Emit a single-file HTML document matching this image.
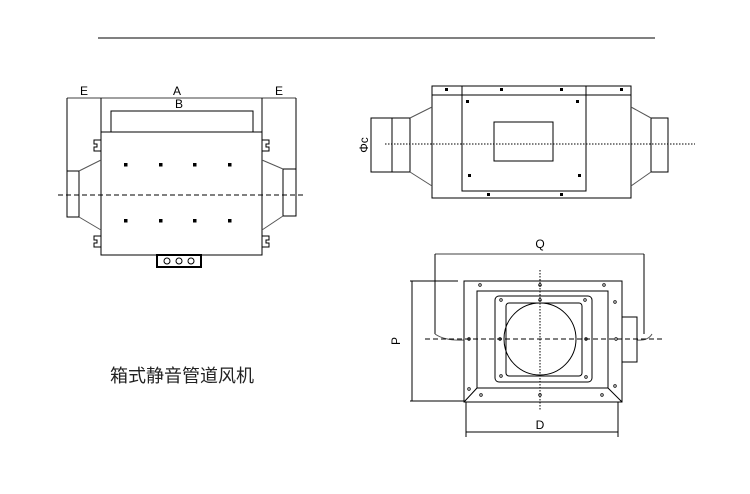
<!DOCTYPE html><html><head><meta charset="utf-8"><style>body{margin:0;background:#fff}svg{display:block}</style></head><body>
<svg width="750" height="494" viewBox="0 0 750 494" xmlns="http://www.w3.org/2000/svg" fill="none" stroke="#000" stroke-width="1" font-family="Liberation Sans, sans-serif">
<line x1="98" y1="38" x2="655" y2="38"/>
<g>
<line x1="67" y1="98" x2="296" y2="98" stroke-width="0.8"/>
<line x1="67" y1="98" x2="67" y2="217"/>
<line x1="101" y1="98" x2="101" y2="132"/>
<line x1="262" y1="98" x2="262" y2="132"/>
<line x1="296" y1="98" x2="296" y2="216"/>
<rect x="111" y="111" width="142" height="21"/>
<rect x="101" y="132" width="161" height="123"/>
<rect x="67" y="171" width="12" height="46"/>
<rect x="283" y="169" width="13" height="47"/>
<line x1="79" y1="171" x2="101" y2="160" stroke="#555"/>
<line x1="79" y1="217" x2="101" y2="230" stroke="#555"/>
<line x1="262" y1="160" x2="283" y2="169" stroke="#555"/>
<line x1="262" y1="230" x2="283" y2="216" stroke="#555"/>
<path d="M101 140 H94 V144 H97 V147 H94 V151 H101"/>
<path d="M101 236 H94 V240 H97 V243 H94 V247 H101"/>
<path d="M262 140 H269 V144 H266 V147 H269 V151 H262"/>
<path d="M262 236 H269 V240 H266 V243 H269 V247 H262"/>
<line x1="58" y1="195" x2="304" y2="195" stroke-dasharray="5,3"/>
<g fill="#000" stroke="none">
<rect x="124" y="163" width="3.5" height="3.5"/><rect x="159" y="163" width="3.5" height="3.5"/><rect x="193" y="163" width="3.5" height="3.5"/><rect x="228" y="163" width="3.5" height="3.5"/>
<rect x="124" y="219" width="3.5" height="3.5"/><rect x="159" y="219" width="3.5" height="3.5"/><rect x="193" y="219" width="3.5" height="3.5"/><rect x="228" y="219" width="3.5" height="3.5"/>
</g>
<rect x="157" y="255" width="44" height="12" stroke-width="2"/>
<circle cx="167" cy="261" r="3"/><circle cx="179" cy="261" r="3"/><circle cx="191" cy="261" r="3"/>
<g fill="#000" stroke="none" font-size="12" text-anchor="middle">
<text x="84" y="95">E</text><text x="177" y="95">A</text><text x="279" y="95">E</text><text x="179" y="108">B</text>
</g>
</g>
<g>
<rect x="432" y="86" width="199" height="112"/>
<line x1="432" y1="95" x2="631" y2="95"/>
<line x1="462" y1="86" x2="462" y2="95"/><line x1="586" y1="86" x2="586" y2="95"/>
<rect x="462" y="95" width="124" height="96"/>
<rect x="494" y="122" width="59" height="39"/>
<rect x="371" y="118" width="39" height="54"/>
<line x1="392" y1="118" x2="392" y2="172"/>
<line x1="410" y1="118" x2="432" y2="107" stroke="#555"/>
<line x1="410" y1="172" x2="432" y2="186" stroke="#555"/>
<rect x="651" y="118" width="17" height="54"/>
<line x1="631" y1="107" x2="651" y2="118" stroke="#555"/>
<line x1="631" y1="186" x2="651" y2="172" stroke="#555"/>
<line x1="385" y1="144" x2="695" y2="144" stroke-dasharray="1.5,1.5"/>
<g fill="#000" stroke="none">
<rect x="445" y="88" width="3" height="3"/><rect x="500" y="88" width="3" height="3"/><rect x="560" y="88" width="3" height="3"/><rect x="620" y="88" width="3" height="3"/>
<rect x="466" y="100" width="3" height="3"/><rect x="576" y="100" width="3" height="3"/>
<rect x="468" y="174" width="3" height="3"/><rect x="578" y="174" width="3" height="3"/>
<rect x="487" y="193" width="3" height="3"/><rect x="560" y="193" width="3" height="3"/>
<text x="0" y="0" font-size="12" text-anchor="middle" transform="translate(368,145) rotate(-90)">Φc</text>
</g>
</g>
<g>
<line x1="435" y1="254" x2="644" y2="254" stroke-width="0.8"/>
<line x1="435" y1="254" x2="435" y2="334"/>
<line x1="644" y1="254" x2="644" y2="334"/>
<path d="M435 334 Q445 341 464 340" stroke="#555"/>
<path d="M637 340 Q648 341 652 334" stroke="#555"/>
<rect x="464" y="281" width="158" height="121"/>
<rect x="477" y="291" width="131" height="97"/>
<line x1="464" y1="402" x2="477" y2="388"/><line x1="622" y1="402" x2="608" y2="388"/>
<rect x="495" y="296" width="97" height="86" rx="4"/>
<rect x="506" y="303" width="76" height="73" rx="3"/>
<circle cx="540" cy="339" r="36"/>
<rect x="622" y="317" width="15" height="45"/>
<line x1="412" y1="281" x2="412" y2="401"/>
<line x1="410" y1="281" x2="458" y2="281"/>
<line x1="410" y1="401" x2="464" y2="401"/>
<line x1="466" y1="402" x2="466" y2="437"/>
<line x1="618" y1="402" x2="618" y2="437"/>
<line x1="466" y1="432" x2="618" y2="432"/>
<line x1="425" y1="339" x2="662" y2="339" stroke-dasharray="5,3"/>
<line x1="540" y1="270" x2="540" y2="410" stroke-dasharray="1.5,1.5"/>
<g stroke-width="0.8">
<circle cx="480" cy="285" r="1.3"/><circle cx="540" cy="285" r="1.3"/><circle cx="604" cy="285" r="1.3"/>
<circle cx="501" cy="300" r="1.3"/><circle cx="540" cy="300" r="1.3"/><circle cx="585" cy="300" r="1.3"/>
<circle cx="615" cy="302" r="1.3"/><circle cx="469" cy="339" r="1.3"/><circle cx="500" cy="339" r="1.3"/><circle cx="586" cy="339" r="1.3"/><circle cx="616" cy="339" r="1.3"/>
<circle cx="501" cy="376" r="1.3"/><circle cx="586" cy="377" r="1.3"/><circle cx="469" cy="389" r="1.3"/><circle cx="615" cy="386" r="1.3"/>
<circle cx="481" cy="395" r="1.3"/><circle cx="540" cy="395" r="1.3"/><circle cx="602" cy="395" r="1.3"/>
</g>
<g fill="#000" stroke="none" font-size="12" text-anchor="middle">
<text x="540" y="248">Q</text><text x="540" y="429">D</text>
<text x="0" y="0" transform="translate(400,341) rotate(-90)">P</text>
</g>
</g>
<text x="110" y="382" fill="#222" stroke="none" font-size="18" font-family="Liberation Sans, Noto Sans CJK SC, sans-serif">箱式静音管道风机</text>
</svg>
</body></html>
